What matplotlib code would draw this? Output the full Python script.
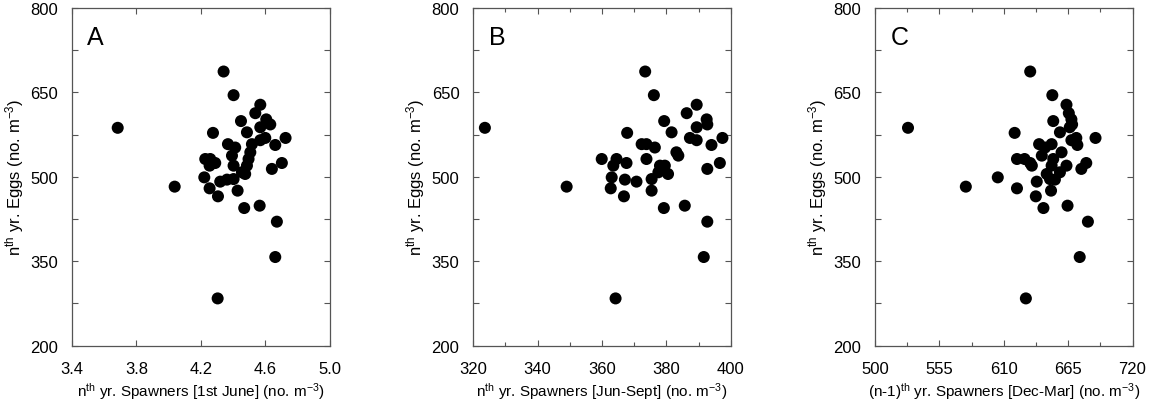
import matplotlib
matplotlib.use("Agg")
import matplotlib.pyplot as plt
from matplotlib.ticker import FixedLocator

plt.rcParams['font.family'] = ['Liberation Sans', 'DejaVu Sans']
plt.rcParams['mathtext.fontset'] = 'custom'
plt.rcParams['mathtext.rm'] = 'Liberation Sans'
plt.rcParams['mathtext.it'] = 'Liberation Sans:italic'

# Eggs (shared y values)
eggs = [687, 645, 628, 613, 599, 602, 593, 588, 578, 579, 569, 569, 565, 556.5,
        558, 552, 558, 543.5, 537.6, 531.6, 531.6, 524.5, 519.8, 531.6, 519.8,
        524.5, 514, 519.8, 508, 505, 499, 491.4, 495, 496, 479.5, 465.3, 475.4,
        444.5, 448.7, 420.3, 357.5, 284, 587, 482.5]

spawn_june = [4.342, 4.404, 4.570, 4.539, 4.450, 4.607, 4.632, 4.570, 4.276, 4.487,
              4.727, 4.601, 4.570, 4.663, 4.369, 4.414, 4.518, 4.508, 4.394, 4.228,
              4.259, 4.290, 4.255, 4.497, 4.404, 4.704, 4.642, 4.487, 4.456, 4.476,
              4.222, 4.321, 4.363, 4.404, 4.255, 4.307, 4.429, 4.470, 4.566, 4.673,
              4.663, 4.305, 3.684, 4.038]

spawn_junsep = [373.4, 376.1, 389.4, 386.3, 379.3, 392.5, 392.7, 389.4, 367.8, 381.6,
                397.4, 387.3, 389.4, 394.0, 372.3, 376.4, 373.8, 383.1, 383.7, 359.9,
                364.5, 367.6, 363.5, 373.8, 378.0, 396.6, 392.7, 379.5, 377.5, 380.5,
                363.0, 370.7, 367.1, 375.4, 362.7, 366.8, 375.4, 379.2, 385.7, 392.7,
                391.6, 364.2, 323.6, 349.0]

spawn_decmar = [632.6, 651.5, 663.6, 665.6, 652.3, 667.8, 668.4, 666.4, 619.3, 658.0,
                688.4, 672.0, 667.8, 672.9, 640.2, 645.3, 650.9, 659.4, 642.5, 621.3,
                627.8, 632.6, 634.0, 652.3, 650.9, 680.5, 676.3, 663.6, 658.0, 646.7,
                604.9, 638.2, 653.7, 649.5, 621.3, 637.4, 650.4, 643.9, 664.5, 681.9,
                674.9, 628.9, 528.2, 577.6]

panel_letters = ['A', 'B', 'C']
xlabels = [r'n$^{\rm th}$ yr. Spawners [1st June] (no. m$^{-3}$)',
           r'n$^{\rm th}$ yr. Spawners [Jun-Sept] (no. m$^{-3}$)',
           r'(n-1)$^{\rm th}$ yr. Spawners [Dec-Mar] (no. m$^{-3}$)']
ylabel = r'n$^{\rm th}$ yr. Eggs (no. m$^{-3}$)'
xlims = [(3.4, 5.0), (320, 400), (500, 720)]
xmajor = [[3.4, 3.8, 4.2, 4.6, 5.0], [320, 340, 360, 380, 400], [500, 555, 610, 665, 720]]
xmajor_lbl = [['3.4', '3.8', '4.2', '4.6', '5.0'], ['320', '340', '360', '380', '400'],
              ['500', '555', '610', '665', '720']]
xminor = [[], [330, 350, 370, 390], [527.5, 582.5, 637.5, 692.5]]
yticks = [200, 350, 500, 650, 800]
yminor = [275, 425, 575, 725]
xs = [spawn_june, spawn_junsep, spawn_decmar]

fig = plt.figure(figsize=(11.55, 4.06), dpi=100)
lefts = [72/1155, 473.3/1155, 875/1155]
w = 257.5/1155
b = (406-346.7)/406
h = 337.8/406
spine_c = '#555555'
for i in range(3):
    ax = fig.add_axes([lefts[i], b, w, h])
    ax.scatter(xs[i], eggs, s=75, c='black', edgecolors='none', zorder=3)
    ax.set_xlim(*xlims[i])
    ax.set_ylim(200, 800)
    ax.xaxis.set_major_locator(FixedLocator(xmajor[i]))
    ax.set_xticklabels(xmajor_lbl[i])
    if xminor[i]:
        ax.xaxis.set_minor_locator(FixedLocator(xminor[i]))
    ax.yaxis.set_major_locator(FixedLocator(yticks))
    ax.yaxis.set_minor_locator(FixedLocator(yminor))
    ax.tick_params(which='major', direction='in', length=4, width=0.8, color=spine_c,
                   top=True, right=True, labelsize=12)
    ax.tick_params(axis='x', which='major', pad=11)
    ax.tick_params(axis='y', which='major', pad=10)
    ax.tick_params(which='minor', direction='in', length=3, width=0.8, color=spine_c,
                   top=True, right=True)
    ax.tick_params(axis='y', which='minor', length=4)
    for sp in ax.spines.values():
        sp.set_color(spine_c)
        sp.set_linewidth(0.9)
    ax.set_xlabel(xlabels[i], fontsize=11, labelpad=3)
    ax.set_ylabel(ylabel, fontsize=12, labelpad=3)
    ax.text(0.06, 0.95, panel_letters[i], transform=ax.transAxes, fontsize=18,
            va='top', ha='left')

fig.savefig('out.png', dpi=100, facecolor='white')
